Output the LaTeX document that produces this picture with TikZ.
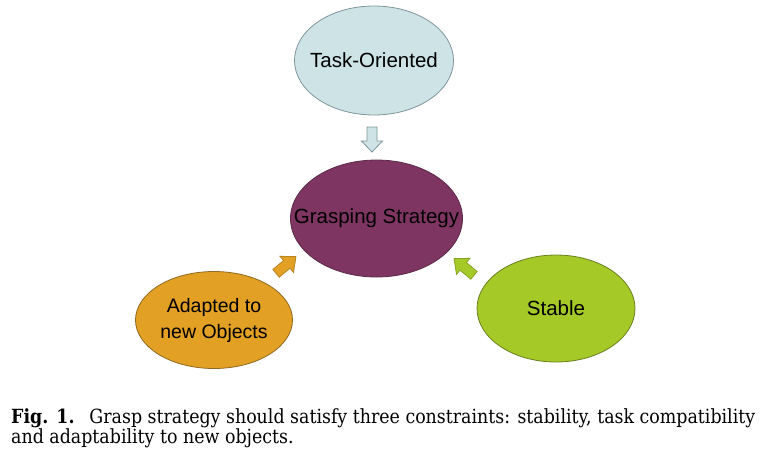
\documentclass[tikz,border=0pt]{standalone}
\usetikzlibrary{shapes.geometric}
\usepackage{fontspec}
\setmainfont{DejaVu Serif}
\newfontfamily\diagfont{Liberation Sans}
\definecolor{taskfill}{HTML}{CDE3E6}
\definecolor{taskline}{HTML}{7F9599}
\definecolor{graspfill}{HTML}{7E3562}
\definecolor{graspline}{HTML}{5A2A48}
\definecolor{adaptfill}{HTML}{E2A024}
\definecolor{adaptline}{HTML}{8F6A22}
\definecolor{stablefill}{HTML}{A5C926}
\definecolor{stableline}{HTML}{6A7F22}
\newcommand\capone{\fontsize{19.5}{22}\selectfont\textbf{Fig. 1.}\hspace{0.85em}Grasp strategy should satisfy three constraints: stability, task compatibility}
\newcommand\captwo{\fontsize{19.5}{22}\selectfont and adaptability to new objects.}
\newsavebox\capbox
\begin{document}
\sbox\capbox{\capone}%
\pgfmathsetmacro\capsx{744/\wd\capbox}%
\begin{tikzpicture}[x=1pt,y=-1pt,
  bubble/.style={ellipse, inner sep=0pt, line width=0.8pt},
  btext/.style={font=\diagfont\fontsize{20.5}{25}\selectfont, align=center, text=black, inner sep=0pt},
  blockarrow/.style={line width=0.8pt, line join=miter}]
\useasboundingbox (0,0) rectangle (767,456);
\node[bubble, fill=taskfill, draw=taskline, minimum width=159pt, minimum height=109pt,
  label={[btext]center:Task-Oriented}] (task) at (374,60.5) {};
\node[bubble, fill=graspfill, draw=graspline, minimum width=172pt, minimum height=117pt,
  label={[btext]center:Grasping Strategy}] (grasp) at (376.5,218.5) {};
\node[bubble, fill=adaptfill, draw=adaptline, minimum width=157pt, minimum height=97pt,
  label={[btext, font=\diagfont\fontsize{19.5}{26}\selectfont]center:Adapted to\\new Objects}] (adapt) at (214,320) {};
\node[bubble, fill=stablefill, draw=stableline, minimum width=158pt, minimum height=107pt,
  label={[btext]center:Stable}] (stable) at (556,308.5) {};
% block arrows
\begin{scope}[shift={(372,139.5)}, rotate=-90]
\draw[blockarrow, fill=taskfill, draw=taskline] (-12.5,-5) -- (1.5,-5) -- (1.5,-10.5) -- (12.5,0) -- (1.5,10.5) -- (1.5,5) -- (-12.5,5) -- cycle;
\end{scope}
\begin{scope}[shift={(286,265)}, rotate=40]
\draw[blockarrow, fill=adaptfill, draw=adaptline!50!adaptfill] (-13,-5) -- (1,-5) -- (1,-10.5) -- (13,0) -- (1,10.5) -- (1,5) -- (-13,5) -- cycle;
\end{scope}
\begin{scope}[shift={(464,267)}, rotate=140]
\draw[blockarrow, fill=stablefill, draw=stableline!50!stablefill] (-13,-5) -- (1,-5) -- (1,-10.5) -- (13,0) -- (1,10.5) -- (1,5) -- (-13,5) -- cycle;
\end{scope}
% caption
\node[anchor=base west, inner sep=0pt] (cap1) at (11,423) {\scalebox{\capsx}[1]{\capone}};
\node[anchor=base west, inner sep=0pt] (cap2) at (11,443) {\scalebox{\capsx}[1]{\captwo}};
\end{tikzpicture}
\end{document}
